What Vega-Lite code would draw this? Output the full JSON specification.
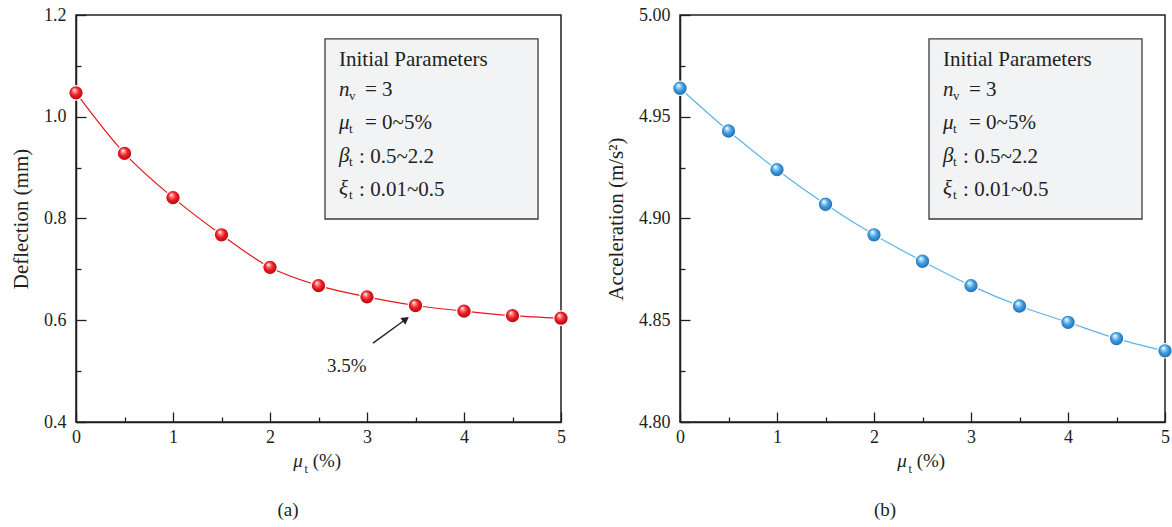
{
  "$schema": "https://vega.github.io/schema/vega-lite/v6.json",
  "background": "white",
  "padding": {"left": 9, "top": 5, "right": 0, "bottom": 0},
  "spacing": 32,
  "config": {
    "font": "Liberation Serif",
    "view": {"stroke": "#231f20", "strokeWidth": 1.5},
    "axis": {
      "domainColor": "#231f20", "domainWidth": 1.5, "tickColor": "#231f20", "tickWidth": 1.3,
      "labelFont": "Liberation Serif", "labelFontSize": 18, "labelColor": "#231f20",
      "titleFont": "Liberation Serif", "titleFontSize": 21, "titleFontWeight": "normal", "titleColor": "#231f20",
      "grid": false, "labelFlush": false, "labelOverlap": false
    }
  },
  "datasets": {
    "defl": [
      {"mu": 0, "d": 1.047}, {"mu": 0.5, "d": 0.928}, {"mu": 1, "d": 0.841}, {"mu": 1.5, "d": 0.768},
      {"mu": 2, "d": 0.704}, {"mu": 2.5, "d": 0.668}, {"mu": 3, "d": 0.646}, {"mu": 3.5, "d": 0.629},
      {"mu": 4, "d": 0.618}, {"mu": 4.5, "d": 0.609}, {"mu": 5, "d": 0.604}
    ],
    "acc": [
      {"mu": 0, "a": 4.964}, {"mu": 0.5, "a": 4.943}, {"mu": 1, "a": 4.924}, {"mu": 1.5, "a": 4.907},
      {"mu": 2, "a": 4.892}, {"mu": 2.5, "a": 4.879}, {"mu": 3, "a": 4.867}, {"mu": 3.5, "a": 4.857},
      {"mu": 4, "a": 4.849}, {"mu": 4.5, "a": 4.841}, {"mu": 5, "a": 4.835}
    ],
    "one": [{}]
  },
  "hconcat": [
    {
      "width": 485, "height": 407,
      "data": {"name": "defl"},
      "layer": [
        {
          "layer": [
            {
              "data": {"name": "one"},
              "mark": {"type": "rect", "fill": "#f2f3f5", "stroke": "#3a3a3a", "strokeWidth": 1.3},
              "encoding": {
                "x": {"datum": 2.567, "type": "quantitative", "scale": {"domain": [0, 5], "nice": false, "zero": false}},
                "x2": {"datum": 4.763},
                "y": {"datum": 0.799, "type": "quantitative", "scale": {"domain": [0.4, 1.2], "nice": false, "zero": false}},
                "y2": {"datum": 1.153}
              }
            },
            {
              "mark": {"type": "line", "color": "#e8141e", "strokeWidth": 1.2, "interpolate": "monotone"},
              "encoding": {
                "x": {"field": "mu", "type": "quantitative", "scale": {"domain": [0, 5], "nice": false, "zero": false},
                  "axis": {"values": [0, 1, 2, 3, 4, 5], "format": "d", "tickSize": -10, "labelPadding": 16, "title": null}},
                "y": {"field": "d", "type": "quantitative", "scale": {"domain": [0.4, 1.2], "nice": false, "zero": false},
                  "axis": {"values": [0.4, 0.6, 0.8, 1.0, 1.2], "format": ".1f", "tickSize": -10, "labelPadding": 20, "title": "Deflection (mm)", "titlePadding": 12}}
              }
            },
            {
              "mark": {"type": "point", "filled": true, "size": 210, "stroke": "white", "strokeWidth": 1.2, "opacity": 1,
                "fill": {"gradient": "radial", "x1": 0.38, "y1": 0.3, "r1": 0.02, "x2": 0.5, "y2": 0.5, "r2": 0.55,
                  "stops": [{"offset": 0, "color": "#ffffff"}, {"offset": 0.18, "color": "#ff8a8a"}, {"offset": 0.5, "color": "#ee1c24"}, {"offset": 1, "color": "#a3050b"}]}},
              "encoding": {
                "x": {"field": "mu", "type": "quantitative"},
                "y": {"field": "d", "type": "quantitative"}
              }
            },
            {
              "data": {"name": "one"},
              "mark": {"type": "text", "font": "Liberation Serif", "color": "#231f20", "fontSize": 21, "align": "left", "baseline": "alphabetic", "text": "Initial Parameters"},
              "encoding": {"x": {"datum": 2.711, "type": "quantitative"}, "y": {"datum": 1.1, "type": "quantitative"}}
            },
            {
              "data": {"name": "one"},
              "mark": {"type": "text", "font": "Liberation Serif", "color": "#231f20", "fontSize": 21, "fontStyle": "italic", "align": "left", "baseline": "alphabetic", "lineHeight": 33, "text": ["n", "μ", "β", "ξ"]},
              "encoding": {"x": {"datum": 2.711, "type": "quantitative"}, "y": {"datum": 1.04, "type": "quantitative"}}
            },
            {
              "data": {"name": "one"},
              "mark": {"type": "text", "font": "Liberation Serif", "color": "#231f20", "fontSize": 13, "align": "left", "baseline": "alphabetic", "lineHeight": 33, "text": ["v", "t", "t", "t"]},
              "encoding": {"x": {"datum": 2.814, "type": "quantitative"}, "y": {"datum": 1.032, "type": "quantitative"}}
            },
            {
              "data": {"name": "one"},
              "mark": {"type": "text", "font": "Liberation Serif", "color": "#231f20", "fontSize": 21, "align": "left", "baseline": "alphabetic", "lineHeight": 33, "text": ["= 3", "= 0~5%"]},
              "encoding": {"x": {"datum": 2.979, "type": "quantitative"}, "y": {"datum": 1.04, "type": "quantitative"}}
            },
            {
              "data": {"name": "one"},
              "mark": {"type": "text", "font": "Liberation Serif", "color": "#231f20", "fontSize": 21, "align": "left", "baseline": "alphabetic", "lineHeight": 33, "text": [": 0.5~2.2", ": 0.01~0.5"]},
              "encoding": {"x": {"datum": 2.918, "type": "quantitative"}, "y": {"datum": 0.91, "type": "quantitative"}}
            },
            {
              "data": {"name": "one"},
              "mark": {"type": "rule", "color": "#231f20", "strokeWidth": 1.3},
              "encoding": {"x": {"datum": 3.062, "type": "quantitative"}, "y": {"datum": 0.555, "type": "quantitative"}, "x2": {"datum": 3.4}, "y2": {"datum": 0.602}}
            },
            {
              "data": {"name": "one"},
              "mark": {"type": "point", "shape": "triangle-up", "filled": true, "color": "#231f20", "size": 70, "angle": 54, "opacity": 1},
              "encoding": {"x": {"datum": 3.4, "type": "quantitative"}, "y": {"datum": 0.602, "type": "quantitative"}}
            },
            {
              "data": {"name": "one"},
              "mark": {"type": "text", "font": "Liberation Serif", "color": "#231f20", "fontSize": 19, "align": "left", "baseline": "alphabetic", "text": "3.5%"},
              "encoding": {"x": {"datum": 2.588, "type": "quantitative"}, "y": {"datum": 0.498, "type": "quantitative"}}
            },
            {
              "data": {"name": "one"},
              "mark": {"type": "text", "font": "Liberation Serif", "color": "#231f20", "fontSize": 19, "fontStyle": "italic", "align": "left", "baseline": "alphabetic", "text": "μ"},
              "encoding": {"x": {"datum": 2.24, "type": "quantitative"}, "y": {"datum": 0.311, "type": "quantitative"}}
            },
            {
              "data": {"name": "one"},
              "mark": {"type": "text", "font": "Liberation Serif", "color": "#231f20", "fontSize": 12, "align": "left", "baseline": "alphabetic", "text": "t"},
              "encoding": {"x": {"datum": 2.355, "type": "quantitative"}, "y": {"datum": 0.299, "type": "quantitative"}}
            },
            {
              "data": {"name": "one"},
              "mark": {"type": "text", "font": "Liberation Serif", "color": "#231f20", "fontSize": 19, "align": "left", "baseline": "alphabetic", "text": "(%)"},
              "encoding": {"x": {"datum": 2.44, "type": "quantitative"}, "y": {"datum": 0.311, "type": "quantitative"}}
            },
            {
              "data": {"name": "one"},
              "mark": {"type": "text", "font": "Liberation Serif", "color": "#231f20", "fontSize": 19, "align": "center", "baseline": "alphabetic", "text": "(a)"},
              "encoding": {"x": {"datum": 2.186, "type": "quantitative"}, "y": {"datum": 0.215, "type": "quantitative"}}
            }
          ]
        },
        {
          "mark": {"type": "point", "opacity": 0},
          "encoding": {
            "x": {"field": "mu", "type": "quantitative",
              "axis": {"orient": "bottom", "values": [0.5, 1.5, 2.5, 3.5, 4.5], "tickSize": -5, "labels": false, "domain": false, "title": null}},
            "y": {"field": "d", "type": "quantitative",
              "axis": {"orient": "left", "values": [0.5, 0.7, 0.9, 1.1], "tickSize": -5, "labels": false, "domain": false, "title": null}}
          }
        }
      ],
      "resolve": {"axis": {"x": "independent", "y": "independent"}}
    },
    {
      "width": 485, "height": 407,
      "data": {"name": "acc"},
      "layer": [
        {
          "layer": [
            {
              "data": {"name": "one"},
              "mark": {"type": "rect", "fill": "#f2f3f5", "stroke": "#3a3a3a", "strokeWidth": 1.3},
              "encoding": {
                "x": {"datum": 2.567, "type": "quantitative", "scale": {"domain": [0, 5], "nice": false, "zero": false}},
                "x2": {"datum": 4.763},
                "y": {"datum": 4.89975, "type": "quantitative", "scale": {"domain": [4.8, 5.0], "nice": false, "zero": false}},
                "y2": {"datum": 4.98825}
              }
            },
            {
              "mark": {"type": "line", "color": "#5ab4e6", "strokeWidth": 1.2, "interpolate": "monotone"},
              "encoding": {
                "x": {"field": "mu", "type": "quantitative", "scale": {"domain": [0, 5], "nice": false, "zero": false},
                  "axis": {"values": [0, 1, 2, 3, 4, 5], "format": "d", "tickSize": -10, "labelPadding": 16, "title": null}},
                "y": {"field": "a", "type": "quantitative", "scale": {"domain": [4.8, 5.0], "nice": false, "zero": false},
                  "axis": {"values": [4.8, 4.85, 4.9, 4.95, 5.0], "format": ".2f", "tickSize": -10, "labelPadding": 20, "title": "Acceleration (m/s²)", "titlePadding": 12}}
              }
            },
            {
              "mark": {"type": "point", "filled": true, "size": 210, "stroke": "white", "strokeWidth": 1.2, "opacity": 1,
                "fill": {"gradient": "radial", "x1": 0.38, "y1": 0.3, "r1": 0.02, "x2": 0.5, "y2": 0.5, "r2": 0.55,
                  "stops": [{"offset": 0, "color": "#ffffff"}, {"offset": 0.18, "color": "#a6d8f7"}, {"offset": 0.5, "color": "#3d9be0"}, {"offset": 1, "color": "#1a62a3"}]}},
              "encoding": {
                "x": {"field": "mu", "type": "quantitative"},
                "y": {"field": "a", "type": "quantitative"}
              }
            },
            {
              "data": {"name": "one"},
              "mark": {"type": "text", "font": "Liberation Serif", "color": "#231f20", "fontSize": 21, "align": "left", "baseline": "alphabetic", "text": "Initial Parameters"},
              "encoding": {"x": {"datum": 2.711, "type": "quantitative"}, "y": {"datum": 4.975, "type": "quantitative"}}
            },
            {
              "data": {"name": "one"},
              "mark": {"type": "text", "font": "Liberation Serif", "color": "#231f20", "fontSize": 21, "fontStyle": "italic", "align": "left", "baseline": "alphabetic", "lineHeight": 33, "text": ["n", "μ", "β", "ξ"]},
              "encoding": {"x": {"datum": 2.711, "type": "quantitative"}, "y": {"datum": 4.96, "type": "quantitative"}}
            },
            {
              "data": {"name": "one"},
              "mark": {"type": "text", "font": "Liberation Serif", "color": "#231f20", "fontSize": 13, "align": "left", "baseline": "alphabetic", "lineHeight": 33, "text": ["v", "t", "t", "t"]},
              "encoding": {"x": {"datum": 2.814, "type": "quantitative"}, "y": {"datum": 4.958, "type": "quantitative"}}
            },
            {
              "data": {"name": "one"},
              "mark": {"type": "text", "font": "Liberation Serif", "color": "#231f20", "fontSize": 21, "align": "left", "baseline": "alphabetic", "lineHeight": 33, "text": ["= 3", "= 0~5%"]},
              "encoding": {"x": {"datum": 2.979, "type": "quantitative"}, "y": {"datum": 4.96, "type": "quantitative"}}
            },
            {
              "data": {"name": "one"},
              "mark": {"type": "text", "font": "Liberation Serif", "color": "#231f20", "fontSize": 21, "align": "left", "baseline": "alphabetic", "lineHeight": 33, "text": [": 0.5~2.2", ": 0.01~0.5"]},
              "encoding": {"x": {"datum": 2.918, "type": "quantitative"}, "y": {"datum": 4.9275, "type": "quantitative"}}
            },
            {
              "data": {"name": "one"},
              "mark": {"type": "text", "font": "Liberation Serif", "color": "#231f20", "fontSize": 19, "fontStyle": "italic", "align": "left", "baseline": "alphabetic", "text": "μ"},
              "encoding": {"x": {"datum": 2.24, "type": "quantitative"}, "y": {"datum": 4.77775, "type": "quantitative"}}
            },
            {
              "data": {"name": "one"},
              "mark": {"type": "text", "font": "Liberation Serif", "color": "#231f20", "fontSize": 12, "align": "left", "baseline": "alphabetic", "text": "t"},
              "encoding": {"x": {"datum": 2.355, "type": "quantitative"}, "y": {"datum": 4.77475, "type": "quantitative"}}
            },
            {
              "data": {"name": "one"},
              "mark": {"type": "text", "font": "Liberation Serif", "color": "#231f20", "fontSize": 19, "align": "left", "baseline": "alphabetic", "text": "(%)"},
              "encoding": {"x": {"datum": 2.44, "type": "quantitative"}, "y": {"datum": 4.77775, "type": "quantitative"}}
            },
            {
              "data": {"name": "one"},
              "mark": {"type": "text", "font": "Liberation Serif", "color": "#231f20", "fontSize": 19, "align": "center", "baseline": "alphabetic", "text": "(b)"},
              "encoding": {"x": {"datum": 2.113, "type": "quantitative"}, "y": {"datum": 4.75375, "type": "quantitative"}}
            }
          ]
        },
        {
          "mark": {"type": "point", "opacity": 0},
          "encoding": {
            "x": {"field": "mu", "type": "quantitative",
              "axis": {"orient": "bottom", "values": [0.5, 1.5, 2.5, 3.5, 4.5], "tickSize": -5, "labels": false, "domain": false, "title": null}},
            "y": {"field": "a", "type": "quantitative",
              "axis": {"orient": "left", "values": [4.825, 4.875, 4.925, 4.975], "tickSize": -5, "labels": false, "domain": false, "title": null}}
          }
        }
      ],
      "resolve": {"axis": {"x": "independent", "y": "independent"}}
    }
  ]
}
